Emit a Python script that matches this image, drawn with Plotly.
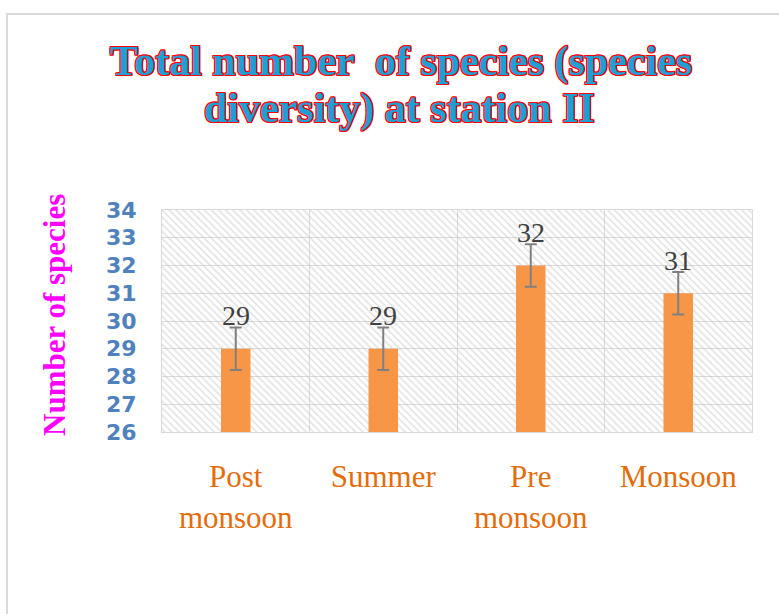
import plotly.graph_objects as go

categories = ["Post<br>monsoon", "Summer", "Pre<br>monsoon", "Monsoon"]
species_counts = [29, 29, 32, 31]
error_values = [0.77, 0.77, 0.77, 0.77]
y_ticks = [26, 27, 28, 29, 30, 31, 32, 33, 34]
y_min, y_max = 26, 34

W, H = 779, 614
L, R, T, B = 162, 27, 210, 182
pw, ph = W - L - R, H - T - B

def px_x(x):
    return (x - L) / pw

def px_y(y):
    return (H - B - y) / ph

fig = go.Figure()

# hatched background tiles (one per category) filling the plot area
fig.add_trace(go.Bar(
    x=categories, y=[y_max - y_min] * len(categories), base=[y_min] * len(categories), width=1,
    marker=dict(color="rgba(0,0,0,0)", line=dict(width=0),
                pattern=dict(shape="\\", fgcolor="#C4C4C4", bgcolor="rgba(0,0,0,0)",
                             size=5, solidity=0.3, fillmode="overlay")),
    hoverinfo="skip", showlegend=False,
))

fig.add_trace(go.Bar(
    x=categories, y=species_counts, width=0.2,
    marker=dict(color="#F79646", line=dict(width=0)),
    error_y=dict(type="data", array=error_values, color="#808080", thickness=2, width=6),
    showlegend=False,
))

serif = "Liberation Serif, Times New Roman, serif"

for c, v in zip(categories, species_counts):
    fig.add_annotation(x=c, y=v, xref="x", yref="y", text=str(v), showarrow=False,
                       yanchor="middle", yshift=33,
                       font=dict(family=serif, size=28, color="#404040"))

outline = ", ".join(f"{a}px {b}px 0 #FF0000" for a in (-1, 0, 1) for b in (-1, 0, 1) if (a, b) != (0, 0))
title_font = dict(family=serif, size=42, color="#1E9FD6", weight="bold", shadow=outline)
fig.add_annotation(x=px_x(401), y=px_y(62), xref="paper", yref="paper",
                   text="Total number  of species (species", showarrow=False,
                   xanchor="center", yanchor="middle", font=title_font)
fig.add_annotation(x=px_x(399), y=px_y(108), xref="paper", yref="paper",
                   text="diversity) at station II", showarrow=False,
                   xanchor="center", yanchor="middle", font=title_font)

fig.add_annotation(x=px_x(54), y=px_y(315), xref="paper", yref="paper",
                   text="Number of species", showarrow=False, textangle=-90,
                   xanchor="center", yanchor="middle",
                   font=dict(family=serif, size=31, color="#FF00FF", weight="bold"))

fig.add_shape(type="rect", xref="paper", yref="paper",
              x0=px_x(7), x1=px_x(820), y0=px_y(660), y1=px_y(14),
              line=dict(color="#D9D9D9", width=2), fillcolor="rgba(0,0,0,0)", layer="below")

fig.update_layout(
    width=W, height=H,
    margin=dict(l=L, r=R, t=T, b=B, pad=0),
    paper_bgcolor="white", plot_bgcolor="white",
    barmode="overlay",
    xaxis=dict(type="category", tickson="boundaries", showgrid=True, gridcolor="#D9D9D9",
               gridwidth=1, showline=True, linecolor="#D9D9D9", mirror=True,
               ticks="", ticklabelstandoff=17,
               tickfont=dict(family=serif, size=31, color="#E46C0A")),
    yaxis=dict(range=[y_min, y_max], tickvals=y_ticks, showgrid=True, gridcolor="#D9D9D9",
               gridwidth=1, showline=True, linecolor="#D9D9D9", mirror=True,
               ticks="", ticklabelstandoff=20, zeroline=False,
               tickfont=dict(family="DejaVu Sans", size=22, color="#4F81BD", weight="bold")),
)

fig.write_html("out.html", config={"displayModeBar": False},
               post_script="document.body.style.margin='0px';")
